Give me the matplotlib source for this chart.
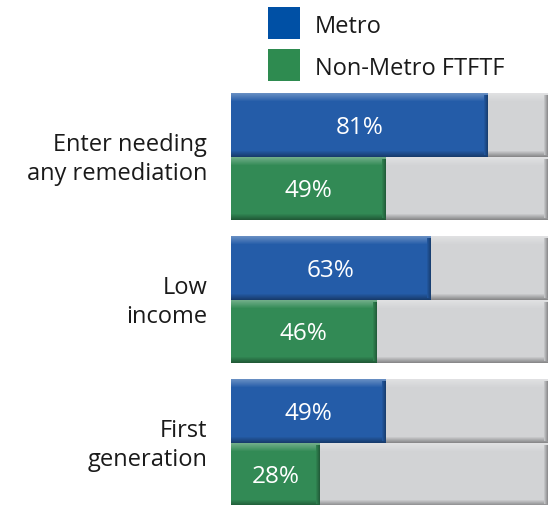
import numpy as np
import matplotlib.pyplot as plt
from matplotlib.patches import Rectangle
from matplotlib.colors import to_rgb

categories = ['Enter needing\nany remediation', 'Low\nincome', 'First\ngeneration']
metro = [81, 63, 49]
non_metro = [49, 46, 28]
series_names = ['Metro', 'Non-Metro FTFTF']

BLUE = '#245ca8'
GREEN = '#328a55'
GRAY = '#d2d3d5'
LEG_BLUE = '#0050a5'
LEG_GREEN = '#2e8b50'

W, H = 548, 506
plt.rcParams['font.family'] = ['Open Sans', 'DejaVu Sans']

fig = plt.figure(figsize=(W / 100, H / 100), dpi=100)
ax = fig.add_axes([231 / W, 0, (W - 231) / W, 1])
ax.set_xlim(0, 100)
ax.set_ylim(H, 0)
ax.axis('off')

bar_h = 63.5
group_gap = 143
first_top = 94


def mix(c, t, amt):
    c = np.array(to_rgb(c))
    t = np.array(to_rgb(t))
    return tuple(c + (t - c) * amt)


def bevel_bar(x0, width, top, color, right_edge=True):
    # base
    ax.add_patch(Rectangle((x0, top), width, bar_h, color=color, lw=0))
    # top highlight
    n = 8
    for i in range(n):
        ax.add_patch(Rectangle((x0, top + i), width, 1, lw=0,
                               color=mix(color, 'white', 0.3 * (1 - i / n))))
    # bottom shadow
    m = 6
    for i in range(m):
        ax.add_patch(Rectangle((x0, top + bar_h - m + i), width, 1, lw=0,
                               color=mix(color, 'black', 0.35 * (i + 1) / m)))
    if right_edge:
        px = 100 / (W - 231)
        for i in range(4):
            ax.add_patch(Rectangle((x0 + width - (4 - i) * px, top + 2), px, bar_h - 4,
                                   lw=0, color=mix(color, 'black', 0.08 * (i + 1))))


for g, cat in enumerate(categories):
    top = first_top + g * group_gap
    for k, (vals, col) in enumerate([(metro, BLUE), (non_metro, GREEN)]):
        t = top + k * bar_h
        bevel_bar(0, 100, t, GRAY)
        bevel_bar(0, vals[g], t, col)
        ax.text(vals[g] / 2, t + bar_h / 2 + 2, f'{vals[g]}%', color='white',
                ha='center', va='center', fontsize=17.5)
    ax.text(-7.5, top + bar_h + 2, cat, ha='right', va='center', fontsize=17,
            color='#1a1a1a', linespacing=1.3)

# legend
for i, (name, col) in enumerate(zip(series_names, [LEG_BLUE, LEG_GREEN])):
    y_top = 8 + i * 42
    fig.patches.append(Rectangle((268 / W, 1 - (y_top + 32) / H), 32 / W, 32 / H,
                                 transform=fig.transFigure, color=col, lw=0))
    fig.text(315 / W, 1 - (y_top + 19) / H, name, fontsize=17, va='center',
             ha='left', color='#1a1a1a')

fig.savefig('out.png', dpi=100)
